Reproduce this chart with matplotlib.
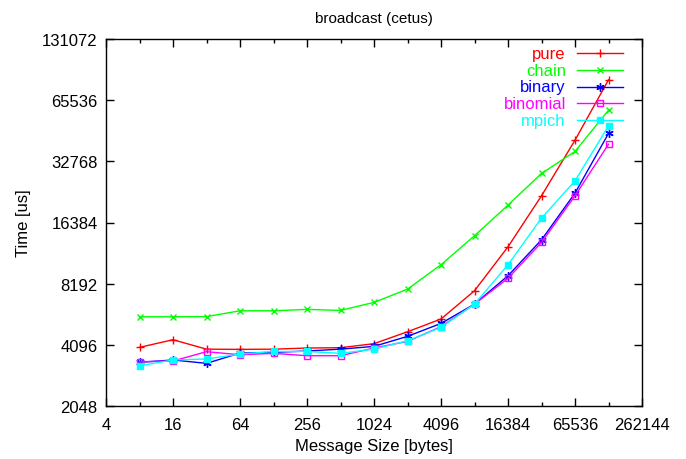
import matplotlib
matplotlib.use("Agg")
import matplotlib.pyplot as plt
from matplotlib.ticker import FixedLocator, FixedFormatter, NullFormatter

plt.rcParams['font.family'] = ['Liberation Sans', 'DejaVu Sans']

# Message sizes in bytes
sizes = [8, 16, 32, 64, 128, 256, 512, 1024, 2048, 4096, 8192,
         16384, 32768, 65536, 131072]

# Broadcast time in microseconds for each algorithm
pure = [3980, 4340, 3900, 3890, 3900, 3950, 3965, 4150, 4750, 5490,
        7560, 12440, 22170, 41650, 82500]
chain = [5630, 5630, 5640, 6025, 6025, 6120, 6050, 6625, 7700, 10150,
         14100, 19950, 28560, 36650, 58500]
binary = [3360, 3450, 3320, 3730, 3760, 3820, 3900, 4025, 4510, 5220,
          6500, 8960, 13460, 22850, 44950]
binomial = [3380, 3410, 3790, 3660, 3720, 3620, 3620, 3950, 4260, 5030,
            6500, 8700, 13080, 22170, 39800]
mpich = [3230, 3450, 3490, 3690, 3800, 3800, 3720, 3900, 4290, 4990,
         6500, 10150, 17220, 26270, 48970]

x_ticks = [4, 16, 64, 256, 1024, 4096, 16384, 65536, 262144]
x_minor = [8, 32, 128, 512, 2048, 8192, 32768, 131072]
y_ticks = [2048, 4096, 8192, 16384, 32768, 65536, 131072]

series = [
    ("pure", pure, "#ff0000", dict(marker='+', markersize=6, mew=1.0)),
    ("chain", chain, "#00ff00", dict(marker='x', markersize=5, mew=1.0)),
    ("binary", binary, "#0000ff", dict(marker=(6, 2, 0), markersize=6, mew=1.0)),
    ("binomial", binomial, "#ff00ff", dict(marker='s', markersize=5, mew=1.0,
                                            markerfacecolor='none')),
    ("mpich", mpich, "#00ffff", dict(marker='s', markersize=5, mew=1.0)),
]

fig = plt.figure(figsize=(6.86, 4.60), dpi=100)
ax = fig.add_axes([106 / 686, 1 - 407 / 460, 536 / 686, 367 / 460])

ax.set_xscale('log', base=2)
ax.set_yscale('log', base=2)
ax.set_xlim(4, 262144)
ax.set_ylim(2048, 131072)

for name, vals, color, mk in series:
    ax.plot(sizes, vals, color=color, lw=1.0, **mk)

ax.xaxis.set_major_locator(FixedLocator(x_ticks))
ax.xaxis.set_major_formatter(FixedFormatter([str(v) for v in x_ticks]))
ax.xaxis.set_minor_locator(FixedLocator(x_minor))
ax.xaxis.set_minor_formatter(NullFormatter())
ax.yaxis.set_major_locator(FixedLocator(y_ticks))
ax.yaxis.set_major_formatter(FixedFormatter([str(v) for v in y_ticks]))
ax.yaxis.set_minor_locator(FixedLocator([]))

ax.tick_params(which='both', direction='in', top=True, right=True,
               labelsize=12)
ax.tick_params(axis='x', pad=8)
ax.tick_params(axis='y', pad=6)
ax.tick_params(which='major', length=6, width=1)
ax.tick_params(which='minor', length=3, width=1)
for s in ax.spines.values():
    s.set_linewidth(1.0)

ax.set_xlabel("Message Size [bytes]", fontsize=12, labelpad=4)
ax.set_ylabel("Time [us]", fontsize=12, labelpad=8)
ax.set_title("broadcast (cetus)", fontsize=11, pad=12)

# Key in the upper right corner: right-aligned label, then a line sample
y0, dy = 0.961, 0.0455
for i, (name, vals, color, mk) in enumerate(series):
    yk = y0 - i * dy
    ax.text(0.858, yk, name, transform=ax.transAxes, ha='right', va='center',
            color=color, fontsize=12)
    ax.plot([0.879, 0.965], [yk, yk], transform=ax.transAxes, color=color,
            lw=1.0, clip_on=False)
    ax.plot([0.922], [yk], transform=ax.transAxes, color=color, lw=0,
            clip_on=False, **mk)

fig.savefig("out.png", dpi=100)
